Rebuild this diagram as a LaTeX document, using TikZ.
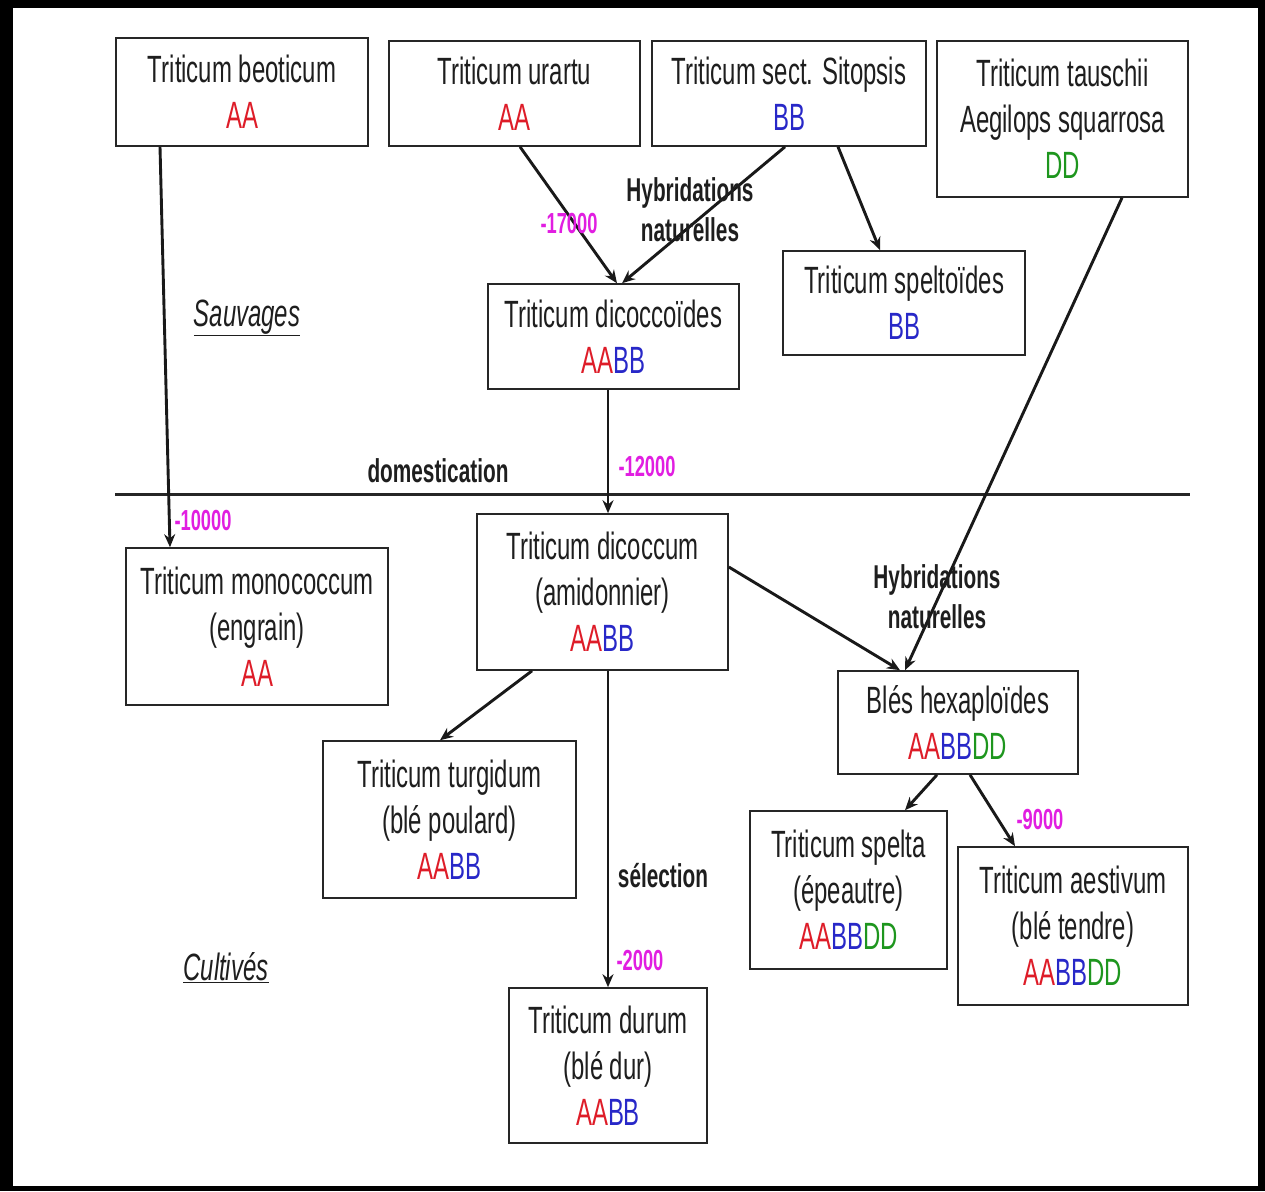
\documentclass[tikz,border=0pt]{standalone}
\usepackage{fontspec}
\setmainfont[FakeStretch=0.63]{Liberation Sans}
\usetikzlibrary{arrows.meta}
\definecolor{cred}{RGB}{222,28,40}
\definecolor{cblue}{RGB}{40,40,200}
\definecolor{cgreen}{RGB}{30,150,30}
\definecolor{cmag}{RGB}{225,30,225}
\definecolor{ctxt}{RGB}{30,30,30}
\tikzset{
  box/.style={draw=black!85, line width=1.6pt, fill=white, align=center, inner sep=0pt,
    text=ctxt, font=\fontsize{38}{46}\selectfont},
  arr/.style={draw=black!90, line width=2.9pt, -{Stealth[length=13pt,width=11pt]}},
  lab/.style={inner sep=0pt, align=center, text=ctxt, font=\fontsize{33}{40}\selectfont\bfseries},
  num/.style={inner sep=0pt, text=cmag, font=\fontsize{29}{34}\selectfont\bfseries},
  zone/.style={inner sep=0pt, text=ctxt, font=\fontsize{38}{46}\selectfont\itshape},
}
\newcommand{\AAc}{\textcolor{cred}{AA}}
\newcommand{\BBc}{\textcolor{cblue}{BB}}
\newcommand{\DDc}{\textcolor{cgreen}{DD}}
\begin{document}
\begin{tikzpicture}[x=1pt,y=-1pt]
% frame
\fill[black] (0,0) rectangle (1265,1191);
\fill[white] (13,8) rectangle (1258,1186);
\useasboundingbox (0,0) rectangle (1265,1191);
% boxes
\node[box, minimum width=252pt, minimum height=108pt] (b1) at (242,92) {Triticum beoticum\\\AAc};
\node[box, minimum width=251pt, minimum height=105pt] (b2) at (514.5,93.5) {Triticum urartu\\\AAc};
\node[box, minimum width=274pt, minimum height=105pt] (b3) at (789,93.5) {Triticum sect. Sitopsis\\\BBc};
\node[box, minimum width=251pt, minimum height=156pt] (b4) at (1062.5,119) {Triticum tauschii\\Aegilops squarrosa\\\DDc};
\node[box, minimum width=242pt, minimum height=104pt] (b5) at (904,303) {Triticum speltoïdes\\\BBc};
\node[box, minimum width=251pt, minimum height=105pt] (b6) at (613.5,336.5) {Triticum dicoccoïdes\\\AAc\BBc};
\node[box, minimum width=262pt, minimum height=157pt] (b7) at (257,626.5) {Triticum monococcum\\(engrain)\\\AAc};
\node[box, minimum width=251pt, minimum height=156pt] (b8) at (602.5,592) {Triticum dicoccum\\(amidonnier)\\\AAc\BBc};
\node[box, minimum width=240pt, minimum height=103pt] (b9) at (958,722.5) {Blés hexaploïdes\\\AAc\BBc\DDc};
\node[box, minimum width=253pt, minimum height=157pt] (b10) at (449.5,819.5) {Triticum turgidum\\(blé poulard)\\\AAc\BBc};
\node[box, minimum width=197pt, minimum height=158pt] (b11) at (848.5,890) {Triticum spelta\\(épeautre)\\\AAc\BBc\DDc};
\node[box, minimum width=230pt, minimum height=158pt] (b12) at (1073,926) {Triticum aestivum\\(blé tendre)\\\AAc\BBc\DDc};
\node[box, minimum width=198pt, minimum height=155pt] (b13) at (608,1065.5) {Triticum durum\\(blé dur)\\\AAc\BBc};
% separator
\coordinate (sepL) at (115,494);
\coordinate (sepR) at (1190,494);
\draw[line width=3pt, black!85] (sepL) -- (sepR);
% connectors
\draw[arr] ([xshift=-82pt]b1.south) -- ([xshift=-87pt]b7.north);
\draw[arr] ([xshift=5.5pt]b2.south) -- ([xshift=3.5pt]b6.north);
\draw[arr] ([xshift=-4pt]b3.south) -- ([xshift=8.5pt]b6.north);
\draw[arr] ([xshift=49pt]b3.south) -- ([xshift=-24pt]b5.north);
\draw[arr] ([xshift=59.5pt]b4.south) -- ([xshift=-53pt]b9.north);
\draw[arr] ([xshift=-5.5pt]b6.south) -- ([xshift=5.5pt]b8.north);
\draw[arr] ([yshift=25pt]b8.east) -- ([xshift=-58pt]b9.north);
\draw[arr] ([xshift=-70.5pt]b8.south) -- ([xshift=-9.5pt]b10.north);
\draw[arr] ([xshift=5.5pt]b8.south) -- (b13.north);
\draw[arr] ([xshift=-21pt]b9.south) -- ([xshift=56.5pt]b11.north);
\draw[arr] ([xshift=12pt]b9.south) -- ([xshift=-58pt]b12.north);
% labels
\node[zone] (sauv) at (247,318) {\underline{Sauvages}};
\node[zone] (cult) at (226,968) {\underline{Cultivés}};
\node[lab] (dom) at (438,471) {domestication};
\node[lab] (hyb1) at (690,210) {Hybridations\\naturelles};
\node[lab] (hyb2) at (937,597) {Hybridations\\naturelles};
\node[lab] (sel) at (663,876) {sélection};
\node[num] (n17) at (569,224) {-17000};
\node[num] (n12) at (647,467) {-12000};
\node[num] (n10) at (203,521) {-10000};
\node[num] (n9) at (1040,820) {-9000};
\node[num] (n2) at (640,961) {-2000};
\end{tikzpicture}
\end{document}
